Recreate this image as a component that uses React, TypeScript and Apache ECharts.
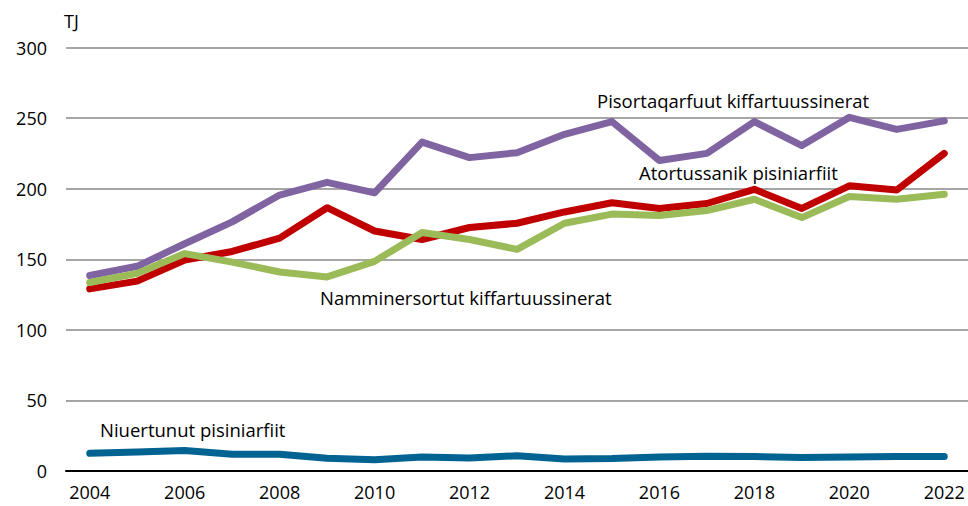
import React, { useEffect, useRef } from "react";
import * as echarts from "echarts";

const years = ["2004","2005","2006","2007","2008","2009","2010","2011","2012","2013","2014","2015","2016","2017","2018","2019","2020","2021","2022"];
const pisortaqarfuut = [138.5,145,161,176.5,195.5,204.5,197,233,222,225.5,238.5,247.5,220,225,247.5,230.5,250.5,242,248];
const atortussanik = [129,134.5,149.5,155.5,165,186.5,170,164,172.5,175.5,183.5,190,186,189.5,199.5,186,202,199,225];
const namminersortut = [133.5,140,154,148,141,137.5,148.5,169,164,157,175.5,182,181,184.5,192.5,179.5,194.5,192.5,196];
const niuertunut = [12.5,13.5,14.5,11.8,11.8,9,8,10,9.2,10.8,8.5,8.8,10,10.5,10.2,9.5,10,10.2,10.2];

const FONT = "'Open Sans', sans-serif";

export default function App() {
  const ref = useRef<HTMLDivElement>(null);
  useEffect(() => {
    const chart = echarts.init(ref.current!, null, { renderer: "svg" });
    const mk = (name: string, data: number[], color: string) => ({
      name,
      type: "line",
      data,
      symbol: "none",
      lineStyle: { color, width: 7, cap: "round", join: "round" },
      itemStyle: { color },
    });
    chart.setOption({
      animation: false,
      backgroundColor: "#ffffff",
      grid: { left: 66, right: -2, top: 47.5, bottom: 35 },
      xAxis: {
        type: "category",
        data: years,
        boundaryGap: true,
        axisLine: { lineStyle: { color: "#000", width: 2 } },
        axisTick: { show: false },
        axisLabel: { interval: 1, color: "#000", fontSize: 18, fontFamily: FONT, margin: 12 },
        splitLine: { show: false },
      },
      yAxis: {
        type: "value",
        min: 0,
        max: 300,
        interval: 50,
        axisLine: { show: false },
        axisTick: { show: false },
        axisLabel: { color: "#000", fontSize: 18, fontFamily: FONT, margin: 19 },
        splitLine: { lineStyle: { color: "#a6a6a6", width: 2 } },
      },
      series: [
        mk("Pisortaqarfuut kiffartuussinerat", pisortaqarfuut, "#8064a2"),
        mk("Atortussanik pisiniarfiit", atortussanik, "#c00000"),
        mk("Namminersortut kiffartuussinerat", namminersortut, "#9bbb59"),
        mk("Niuertunut pisiniarfiit", niuertunut, "#006392"),
      ],
      graphic: [
        { type: "text", left: 64, top: 12, style: { text: "TJ", fill: "#000", font: `18px ${FONT}` } },
        { type: "text", left: 597, top: 90.5, style: { text: "Pisortaqarfuut kiffartuussinerat", fill: "#000", font: `18.5px ${FONT}` } },
        { type: "text", left: 639, top: 162.5, style: { text: "Atortussanik pisiniarfiit", fill: "#000", font: `18.5px ${FONT}` } },
        { type: "text", left: 320, top: 287.5, style: { text: "Namminersortut kiffartuussinerat", fill: "#000", font: `18.5px ${FONT}` } },
        { type: "text", left: 100, top: 419.5, style: { text: "Niuertunut pisiniarfiit", fill: "#000", font: `18.5px ${FONT}` } },
      ],
    });
    return () => chart.dispose();
  }, []);
  return <div ref={ref} style={{ width: 968, height: 506, position: "absolute", left: 0, top: 0 }} />;
}
